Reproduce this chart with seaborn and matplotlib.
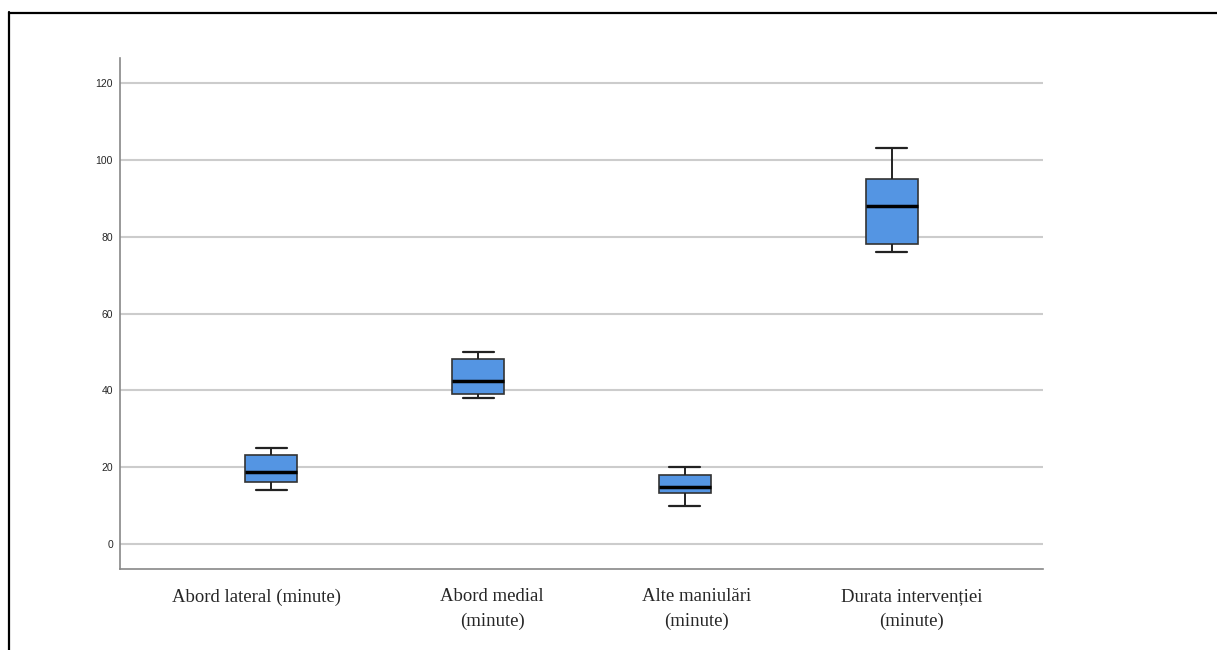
import numpy as np
import pandas as pd
import matplotlib
matplotlib.use("Agg")
import matplotlib.pyplot as plt
import matplotlib.transforms as mtransforms
import seaborn as sns

categories = ["Abord lateral (minute)", "Abord medial\n(minute)",
              "Alte maniulări\n(minute)", "Durata intervenției\n(minute)"]
# five-number summaries: min, Q1, median, Q3, max
lateral = [14, 16.1, 18.7, 23.2, 25]
medial = [38, 39, 42.4, 48.2, 50]
alte = [10, 13.3, 14.8, 18, 20]
durata = [76, 78, 88, 95, 103]
yticks = [0, 20, 40, 60, 80, 100, 120]

df = pd.DataFrame({
    "cat": np.repeat(categories, 5),
    "val": lateral + medial + alte + durata,
})

sns.set_style("white")
fig = plt.figure(figsize=(12.17, 6.5), dpi=100)
ax = fig.add_axes([120/1217, 1-569/650, (1043-120)/1217, (569-58)/650])

for y in yticks:
    ax.axhline(y, color="#cccccc", lw=1.5, zorder=0)

sns.boxplot(data=df, x="cat", y="val", ax=ax, order=categories, width=0.25,
            whis=np.inf, color="#5495E3", saturation=1,
            boxprops=dict(edgecolor="#333333", linewidth=1.2),
            whiskerprops=dict(color="#222222", linewidth=1.4),
            capprops=dict(color="#222222", linewidth=1.6),
            medianprops=dict(color="black", linewidth=2.5),
            capwidths=0.15, zorder=3)

ax.set_xlim(-0.73, 3.73)
ax.set_ylim(-6.5, 126.5)
ax.set_yticks(yticks)
ax.set_yticklabels([str(v) for v in yticks], family="Liberation Sans", fontsize=7.5)
ax.set_xticks(range(4))
ax.set_xticklabels(categories, family="Liberation Serif", fontsize=13.5, linespacing=1.55)
ax.tick_params(axis="y", length=0, pad=5)
ax.tick_params(axis="x", length=0, pad=14)
ax.set_xlabel("")
ax.set_ylabel("")
shifts = [-15, 14, 12, 20]
for lab, dx in zip(ax.get_xticklabels(), shifts):
    lab.set_transform(lab.get_transform() +
                      mtransforms.ScaledTranslation(dx / 100, 0, fig.dpi_scale_trans))
for s in ["top", "right"]:
    ax.spines[s].set_visible(False)
for s in ["left", "bottom"]:
    ax.spines[s].set_color("#888888")
    ax.spines[s].set_linewidth(1.2)

# outer frame of the page
fig.add_artist(plt.Line2D([8.5/1217, 8.5/1217], [0, 1-12/650], color="black", lw=1.6,
                          transform=fig.transFigure))
fig.add_artist(plt.Line2D([8.5/1217, 1], [1-12.5/650, 1-12.5/650], color="black", lw=1.6,
                          transform=fig.transFigure))

fig.savefig("out.png", dpi=100)
